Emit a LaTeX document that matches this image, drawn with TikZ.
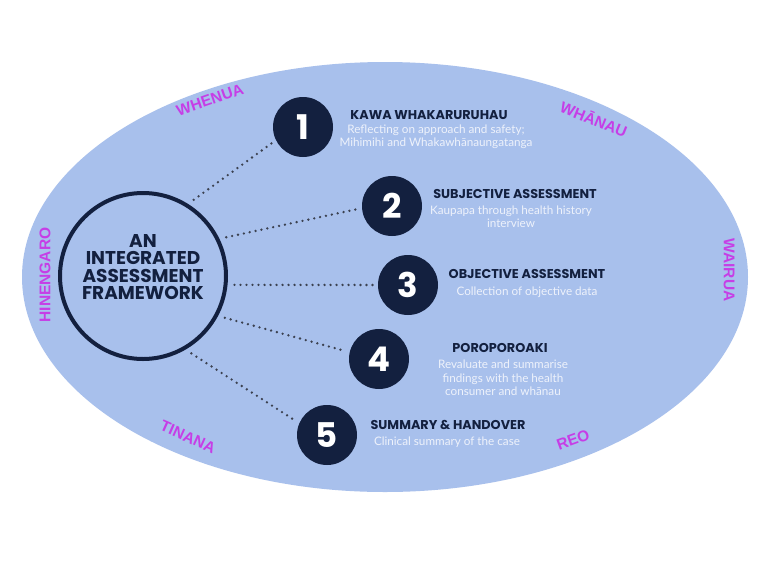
\documentclass[tikz,border=0pt]{standalone}
\usepackage{fontspec}
\setmainfont{Lato}
\newfontfamily\titlefont{Poppins}
\newfontfamily\sidefont{Liberation Sans}
\definecolor{bgblue}{HTML}{A8C0EC}
\definecolor{navy}{HTML}{13203F}
\definecolor{dotgray}{HTML}{3B4150}
\definecolor{magenta}{HTML}{C63EE6}
\definecolor{subwhite}{HTML}{EEF2FB}
\begin{document}
\begin{tikzpicture}[x=1pt,y=-1pt,
  numcircle/.style={circle,fill=navy,minimum size=60pt,inner sep=0pt,text=white,font=\titlefont\bfseries\fontsize{34}{34}\selectfont},
  titletext/.style={font=\titlefont\bfseries\fontsize{12.8}{13}\selectfont,text=navy,inner sep=0pt},
  subtext/.style={font=\fontsize{11.7}{13.3}\selectfont,text=subwhite,inner sep=0pt,align=center},
  sideword/.style={font=\sidefont\bfseries\fontsize{15.5}{15.5}\selectfont,text=magenta,inner sep=0pt},
  dotline/.style={draw=dotgray,line width=2.6pt,line cap=round,dash pattern=on 0pt off 6pt}]
\useasboundingbox (0,0) rectangle (768,576);
\fill[white] (0,0) rectangle (768,576);
\fill[bgblue] (385,277) ellipse [x radius=363, y radius=215];

\node[circle,draw=navy,line width=4pt,minimum size=166pt,inner sep=0pt] (bigc) at (143,276) {};
\node[font=\titlefont\bfseries\fontsize{18.5}{17.5}\selectfont,text=navy,align=center,inner sep=0pt] (bigt) at (143,267) {AN\\INTEGRATED\\ASSESSMENT\\FRAMEWORK};

\node[numcircle] (n1) at (303,127) {1};
\node[numcircle] (n2) at (392,206) {2};
\node[numcircle] (n3) at (408,285) {3};
\node[numcircle] (n4) at (379,359) {4};
\node[numcircle] (n5) at (327,435) {5};

\draw[dotline,shorten <=7pt,shorten >=4pt] (bigc.58) -- (n1.206);
\draw[dotline,shorten <=7pt,shorten >=3pt] (bigc.26) -- (n2.184);
\draw[dotline,shorten <=7pt,shorten >=4pt] (bigc.-6) -- (n3.180);
\draw[dotline,shorten <=7pt,shorten >=4pt] (bigc.-28) -- (n4.167);
\draw[dotline,shorten <=7pt,shorten >=4pt] (bigc.-60) -- (n5.157);

\node[titletext] (t1) at (429,115) {KAWA WHAKARURUHAU};
\node[subtext] (s1) at (436,137) {Reflecting on approach and safety;\\Mihimihi and Whakawhānaungatanga};
\node[titletext] (t2) at (515,194) {SUBJECTIVE ASSESSMENT};
\node[subtext] (s2) at (511,217) {Kaupapa through health history\\interview};
\node[titletext] (t3) at (527,274) {OBJECTIVE ASSESSMENT};
\node[subtext] (s3) at (527,292) {Collection of objective data};
\node[titletext] (t4) at (500,348) {POROPOROAKI};
\node[subtext] (s4) at (503,378) {Revaluate and summarise\\findings with the health\\consumer and whānau};
\node[titletext] (t5) at (448,425) {SUMMARY \& HANDOVER};
\node[subtext] (s5) at (447,442) {Clinical summary of the case};

\node[sideword,rotate=19] (w1) at (210,100) {WHENUA};
\node[sideword,rotate=-22] (w2) at (594,119) {WHĀNAU};
\node[sideword,rotate=-90] (w3) at (729,270) {WAIRUA};
\node[sideword,rotate=90] (w4) at (45,275) {HINENGARO};
\node[sideword,rotate=-24] (w5) at (188,437) {TINANA};
\node[sideword,rotate=20] (w6) at (573,440) {REO};
\end{tikzpicture}
\end{document}
